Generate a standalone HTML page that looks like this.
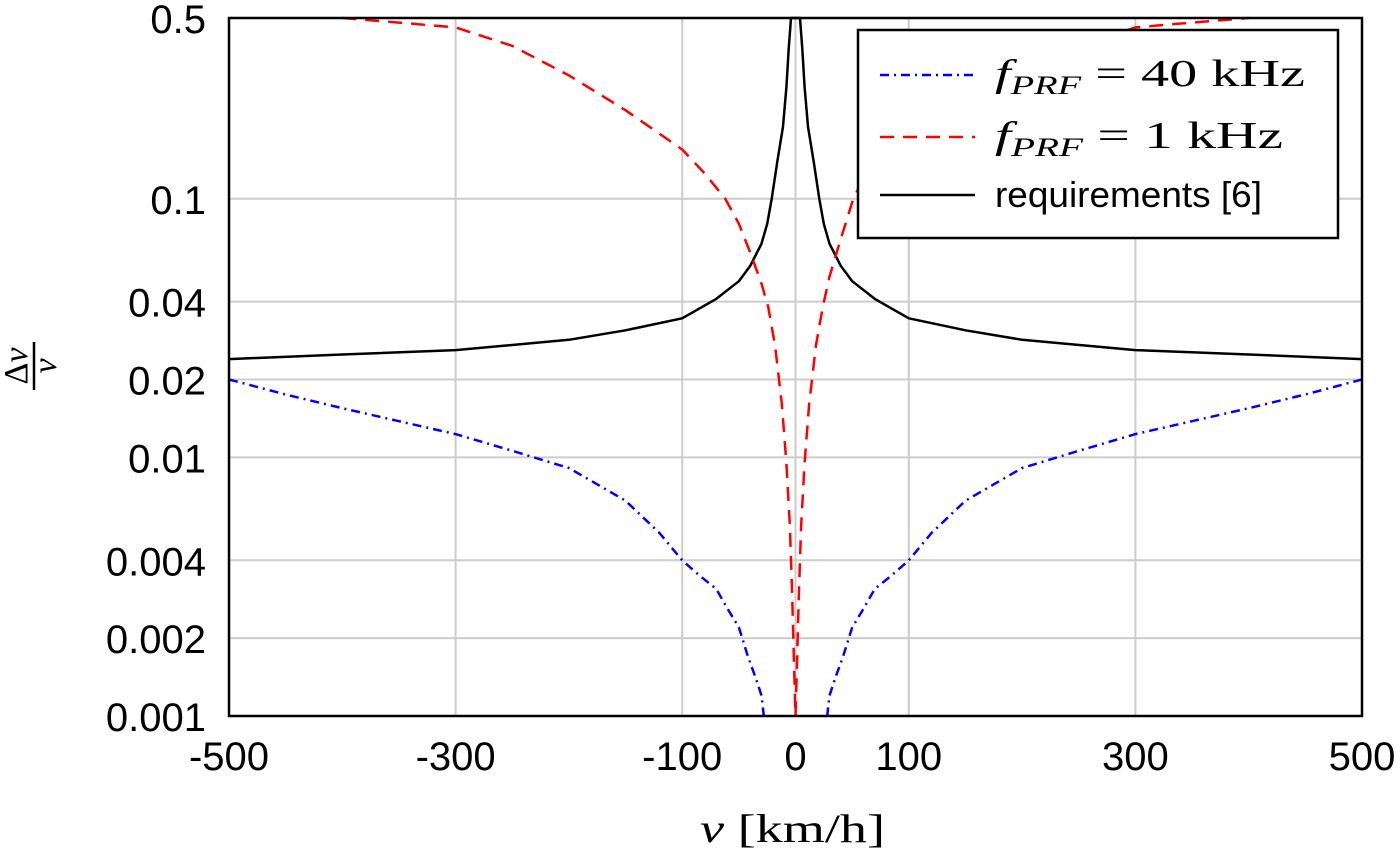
<!DOCTYPE html>
<html><head><meta charset="utf-8"><style>
body{margin:0;background:#fff;}
svg text{font-family:"Liberation Sans",sans-serif;}
.serif{font-family:"Liberation Serif",serif;}
</style></head><body>
<svg id="chart" width="1400" height="859" viewBox="0 0 1400 859">
<g id="grid"></g>
<g id="series"></g>
<rect x="229" y="18" width="1133" height="698" fill="none" stroke="#000" stroke-width="2.5"/>
<g id="ticks"></g>
<text class="serif" x="700" y="842" font-size="40" textLength="185" lengthAdjust="spacingAndGlyphs"><tspan font-style="italic">v</tspan> [km/h]</text>
<g transform="translate(34,366) rotate(-90)">
<text class="serif" x="0" y="-7" font-size="34" text-anchor="middle">Δ<tspan font-style="italic">v</tspan></text>
<line x1="-24" y1="0" x2="24" y2="0" stroke="#000" stroke-width="2.5"/>
<text class="serif" x="0" y="22" font-size="34" text-anchor="middle" font-style="italic">v</text>
</g>
<g>
<rect x="858" y="30" width="480" height="208" fill="#fff" stroke="#000" stroke-width="2.5"/>
<g>
<line x1="880" y1="75" x2="975" y2="75" stroke="#00f" stroke-width="2.5" stroke-dasharray="9 5 2 5"/>
<text class="serif" x="995" y="86" font-size="38" textLength="310" lengthAdjust="spacingAndGlyphs"><tspan font-style="italic">f</tspan><tspan font-style="italic" font-size="26" dy="8">PRF</tspan><tspan dy="-8"> = 40 kHz</tspan></text>
</g>
<g>
<line x1="880" y1="137" x2="975" y2="137" stroke="#f00" stroke-width="2.5" stroke-dasharray="14 9"/>
<text class="serif" x="995" y="148" font-size="38" textLength="288" lengthAdjust="spacingAndGlyphs"><tspan font-style="italic">f</tspan><tspan font-style="italic" font-size="26" dy="8">PRF</tspan><tspan dy="-8"> = 1 kHz</tspan></text>
</g>
<g>
<line x1="880" y1="195" x2="975" y2="195" stroke="#000" stroke-width="2.5"/>
<text x="995" y="207" font-size="36" textLength="267" lengthAdjust="spacingAndGlyphs">requirements [6]</text>
</g>
</g>
</svg>
<script>
const xTicks=[-500,-300,-100,0,100,300,500];
const yTicks=[0.5,0.1,0.04,0.02,0.01,0.004,0.002,0.001];
const reqV=[-500,-400,-300,-200,-150,-100,-70,-50,-40,-30,-25,-21,-16,-11,-8,-6,-4,4,6,8,11,16,21,25,30,40,50,70,100,150,200,300,400,500];
const reqY=[0.024,0.025,0.026,0.0285,0.031,0.0345,0.041,0.048,0.055,0.067,0.08,0.1,0.14,0.19,0.27,0.38,0.5,0.5,0.38,0.27,0.19,0.14,0.1,0.08,0.067,0.055,0.048,0.041,0.0345,0.031,0.0285,0.026,0.025,0.024];
const redV=[-400,-350,-300,-250,-200,-150,-100,-80,-62,-50,-40,-30,-24,-18,-12,-8,-5,-3,-1.5,0,1.5,3,5,8,12,18,24,30,40,51,62,80,100,150,200,250,300,350,400];
const redY=[0.5,0.48,0.46,0.39,0.3,0.22,0.155,0.125,0.1,0.08,0.062,0.047,0.038,0.027,0.016,0.0095,0.0055,0.003,0.0017,0.001,0.0017,0.003,0.0055,0.0095,0.016,0.027,0.038,0.05,0.07,0.1,0.125,0.15,0.18,0.24,0.31,0.39,0.46,0.48,0.5];
const blueV=[-500,-450,-400,-350,-300,-250,-200,-150,-120,-100,-85,-70,-60,-50,-42,-35,-30,-28];
const blueY=[0.02,0.0175,0.0155,0.0138,0.0123,0.0106,0.0091,0.0068,0.0051,0.004,0.0035,0.0031,0.0026,0.0022,0.0017,0.0014,0.0012,0.001];
const X0=229,X1=1362,Y0=18,Y1=716;
const xs=v=>X0+(v+500)/1000*(X1-X0);
const ys=y=>Y0+(Math.log10(0.5)-Math.log10(y))/(Math.log10(0.5)-Math.log10(0.001))*(Y1-Y0);
const NS='http://www.w3.org/2000/svg';
const grid=document.getElementById('grid'),ticks=document.getElementById('ticks'),ser=document.getElementById('series');
function mk(tag,attrs,parent){const e=document.createElementNS(NS,tag);for(const k in attrs)e.setAttribute(k,attrs[k]);parent.appendChild(e);return e;}
xTicks.forEach(t=>{
 if(t!==-500&&t!==500){const g=mk('line',{x1:xs(t),x2:xs(t),y1:Y0,y2:Y1,stroke:'#ccc','stroke-width':2},grid);
 
 }
 const l=mk('text',{x:xs(t),y:770,'font-size':40,'text-anchor':'middle'},ticks);l.textContent=t;
 
 
});
yTicks.forEach(t=>{
 if(t!==0.5&&t!==0.001){const g=mk('line',{x1:X0,x2:X1,y1:ys(t),y2:ys(t),stroke:'#ccc','stroke-width':2},grid);
 
 }
 const l=mk('text',{x:206,y:ys(t)+15,'font-size':40,'text-anchor':'end'},ticks);l.textContent=t;
 
 
});
function line(V,Y,color,dash,name){
 const d=V.map((v,i)=>(i?'L':'M')+xs(v).toFixed(1)+','+ys(Y[i]).toFixed(1)).join(' ');
 const p=mk('path',{d:d,fill:'none',stroke:color,'stroke-width':2.5,'stroke-dasharray':dash,'stroke-linejoin':'round'},ser);
 
 
}
line(reqV,reqY,'#000','none','requirements-line');
line(redV,redY,'#f00','14 9','prf-1khz-line');
line(blueV,blueY,'#00f','9 5 2 5','prf-40khz-line-left');
line(blueV.map(v=>-v),blueY,'#00f','9 5 2 5','prf-40khz-line-right');
</script>
</body></html>
